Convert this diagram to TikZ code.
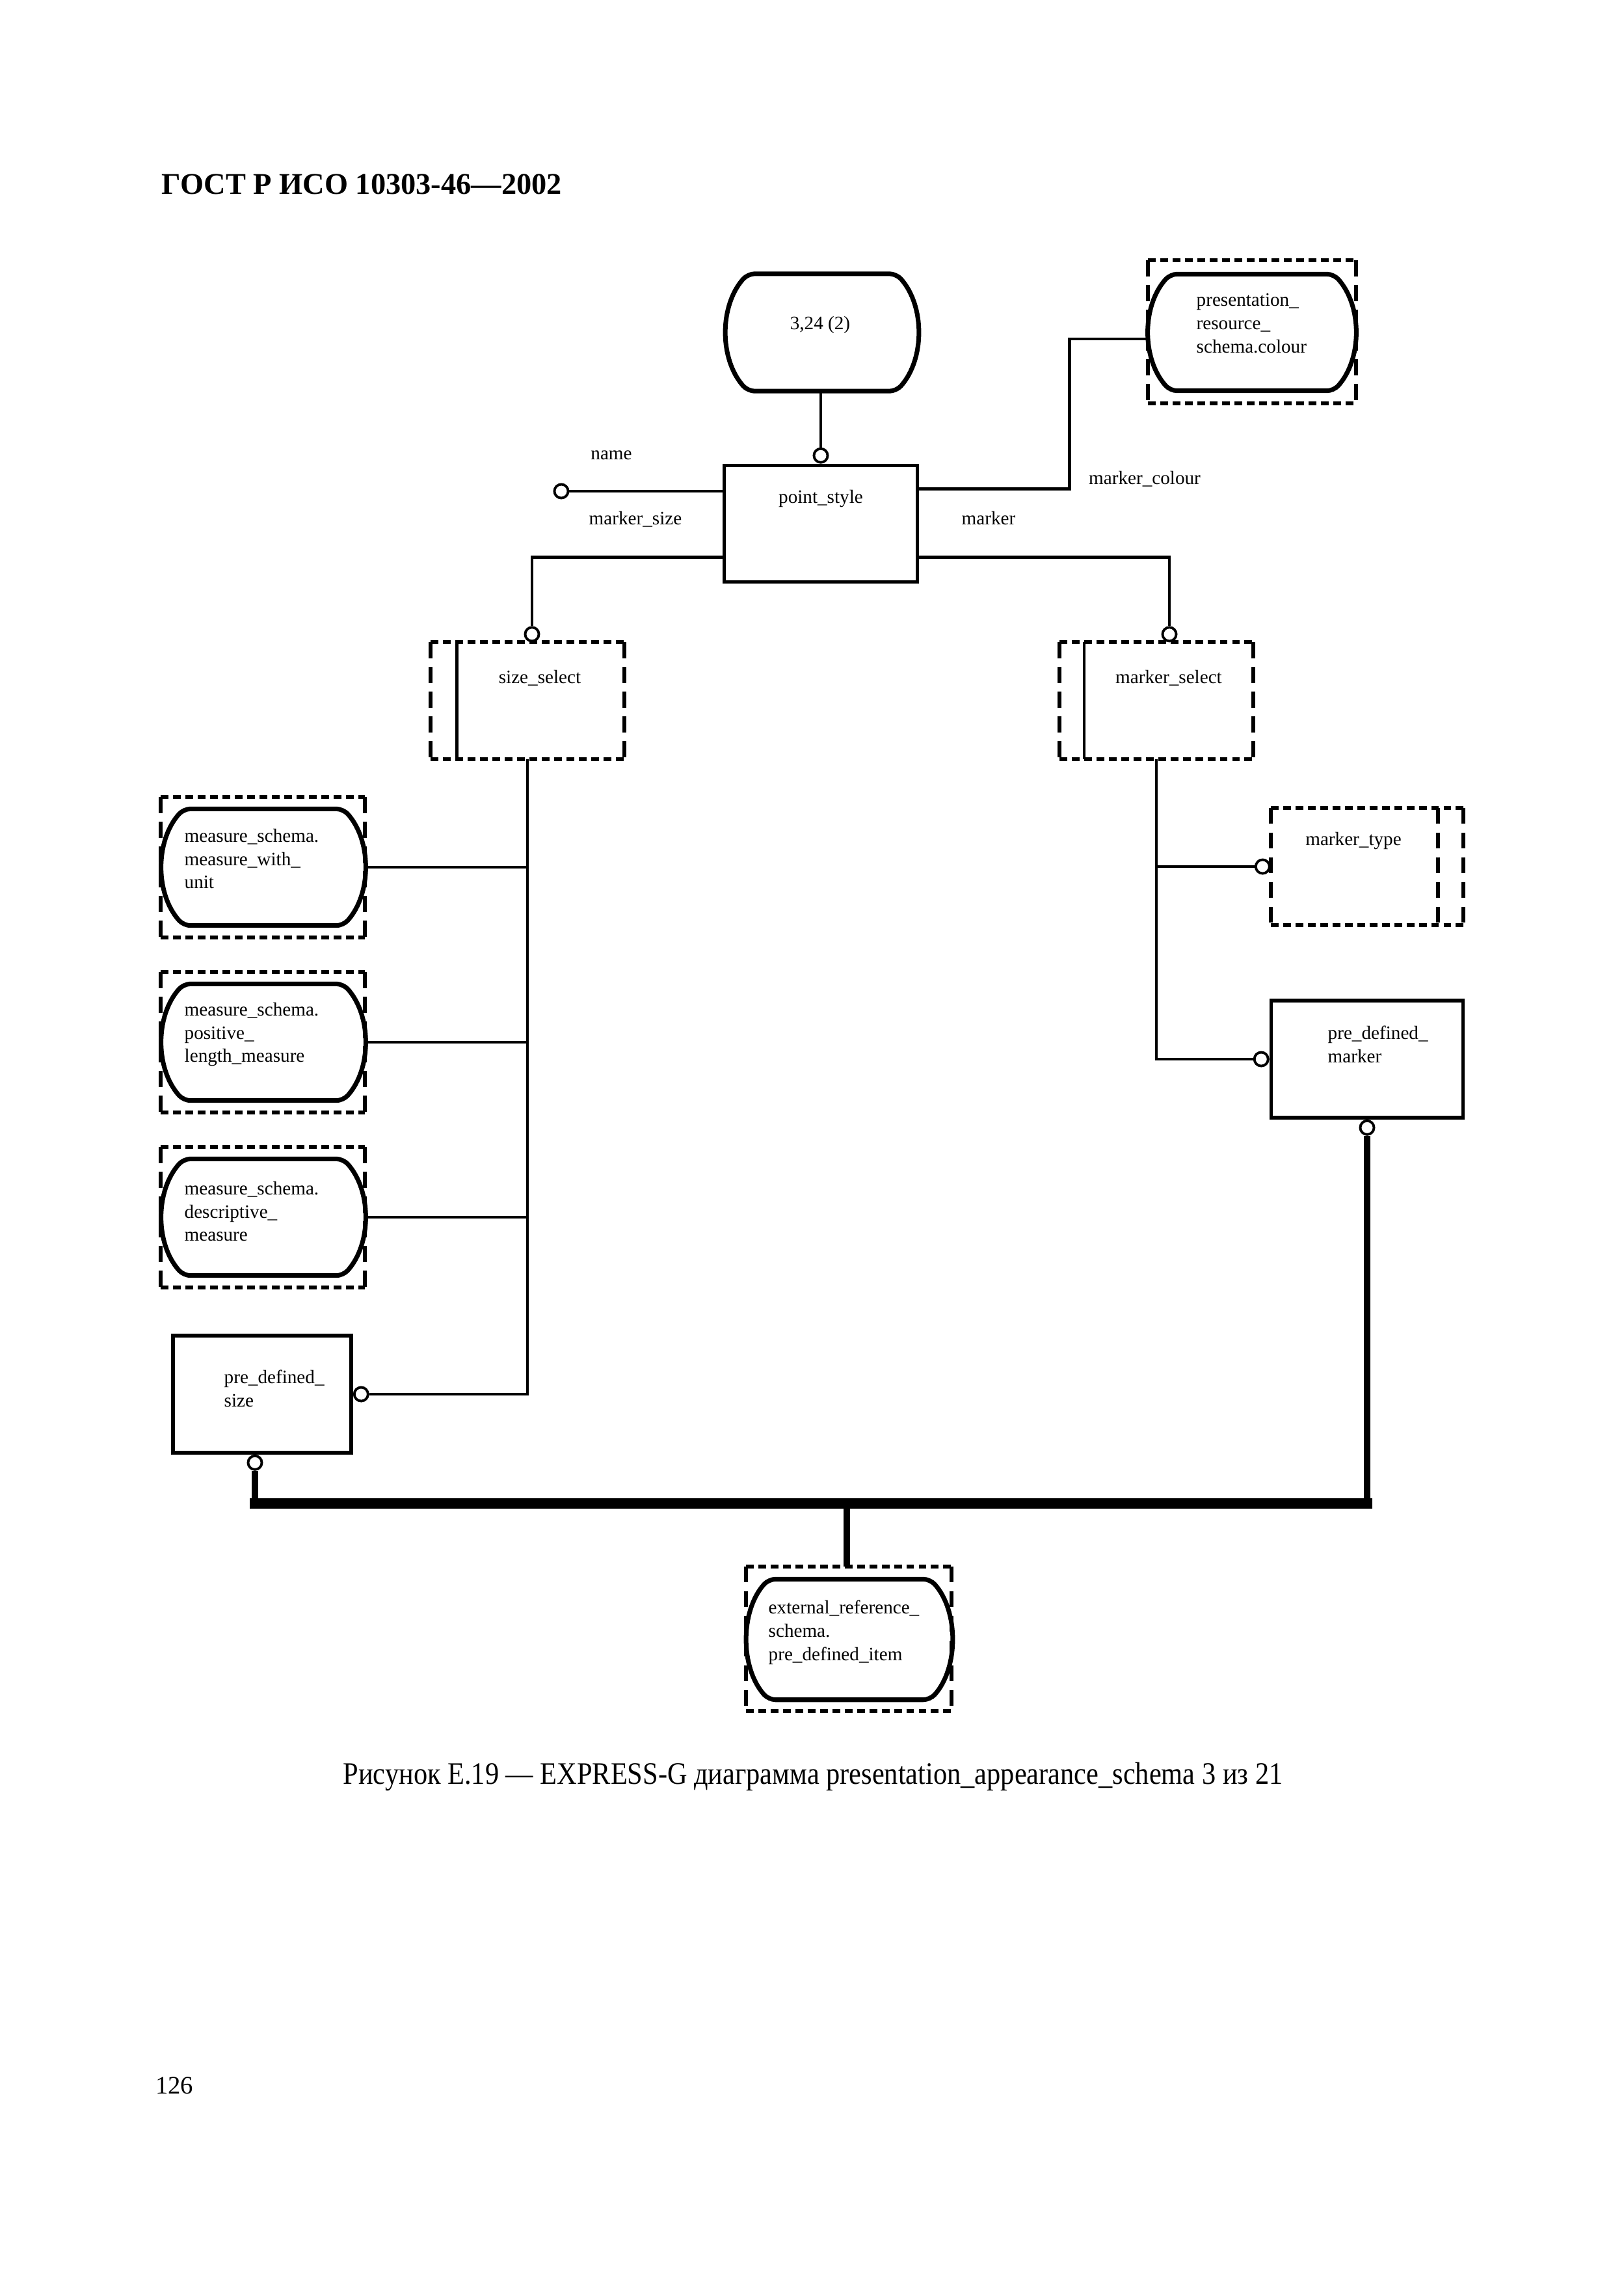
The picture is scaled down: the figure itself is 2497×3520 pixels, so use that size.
\documentclass[tikz,border=0pt]{standalone}
\usepackage{fontspec}
\setmainfont{Liberation Serif}
\newfontfamily\capfont[FakeStretch=0.88]{Liberation Serif}
\usetikzlibrary{positioning}

\tikzset{
  conn/.style={line width=1.3pt},
  entity/.style={rectangle, draw, line width=1.6pt, inner sep=0pt},
  frame/.style={rectangle, inner sep=0pt},
  ring/.style={circle, draw, line width=1.1pt, fill=white, inner sep=0pt, minimum size=6pt},
  lbl/.style={font=\fontsize{8.3}{10.2}\selectfont, inner sep=0pt},
  txt/.style={lbl, align=left, anchor=west},
  hdash/.style={line width=1.7pt, dash pattern=on 3.4pt off 2pt},
  vdash/.style={line width=1.7pt, dash pattern=on 7pt off 3.8pt},
  bus/.style={line width=4.8pt, line cap=rect},
  stem/.style={line width=3pt},
}

% outline of a schema reference around node #1
\newcommand{\barrelshape}[1]{%
  \draw[line width=2pt, rounded corners=3pt] (#1.north) -- ([xshift=-9.4pt]#1.north east)
    .. controls ([xshift=3.1pt, yshift=-14pt]#1.north east) and ([xshift=3.1pt, yshift=14pt]#1.south east) .. ([xshift=-9.4pt]#1.south east)
    -- ([xshift=9.4pt]#1.south west)
    .. controls ([xshift=-3.1pt, yshift=14pt]#1.south west) and ([xshift=-3.1pt, yshift=-14pt]#1.north west) .. ([xshift=9.4pt]#1.north west)
    -- cycle;}
% dashed frame round node #1
\newcommand{\dashedframe}[1]{%
  \draw[hdash] (#1.north west) -- (#1.north east) (#1.south west) -- (#1.south east);
  \draw[vdash] (#1.north west) -- (#1.south west) (#1.north east) -- (#1.south east);}

\begin{document}
\begin{tikzpicture}[x=0.1mm, y=-0.1mm]
	\useasboundingbox (0,0) rectangle (2497,3520);

	\node[anchor=west, font=\fontsize{13.2}{16}\selectfont\bfseries, inner sep=0pt] (title) at (248,283) {ГОСТ Р ИСО 10303-46—2002};

	% entities and references
	\node[frame, minimum width=29.3mm, minimum height=17.9mm] (ref324) at (1264,511) {};
	\node[entity, minimum width=29.7mm, minimum height=17.9mm] (ps) at (1262,805) {};
	\node[frame, minimum width=31.8mm, minimum height=21.8mm] (pres-d) at (1925,510) {};
	\node[frame, minimum width=31.6mm, minimum height=17.8mm] (pres) at (1925,511) {};
	\node[frame, minimum width=29.6mm, minimum height=17.8mm] (ssel) at (811,1077) {};
	\node[frame, minimum width=29.7mm, minimum height=17.8mm] (msel) at (1778,1077) {};
	\node[frame, minimum width=31.2mm, minimum height=21.4mm] (mwu-d) at (404,1333) {};
	\node[frame, minimum width=31.0mm, minimum height=17.8mm] (mwu) at (405,1333) {};
	\node[frame, minimum width=31.2mm, minimum height=21.4mm] (plm-d) at (404,1602) {};
	\node[frame, minimum width=31.0mm, minimum height=17.8mm] (plm) at (405,1602) {};
	\node[frame, minimum width=31.2mm, minimum height=21.4mm] (dsc-d) at (404,1871) {};
	\node[frame, minimum width=31.0mm, minimum height=17.8mm] (dsc) at (405,1871) {};
	\node[entity, minimum width=27.4mm, minimum height=18.0mm] (pds) at (403,2143) {};
	\node[frame, minimum width=29.5mm, minimum height=17.9mm] (mtype) at (2102,1332) {};
	\node[entity, minimum width=29.5mm, minimum height=18.0mm] (pdm) at (2102,1628) {};
	\node[frame, minimum width=31.5mm, minimum height=22.1mm] (ext-d) at (1305,2519) {};
	\node[frame, minimum width=31.3mm, minimum height=18.4mm] (ext) at (1306,2520) {};

	\barrelshape{ref324}
	\foreach \b in {pres,mwu,plm,dsc,ext} {\barrelshape{\b}}
	\foreach \f in {pres-d,mwu-d,plm-d,dsc-d,ext-d,ssel,msel,mtype} {\dashedframe{\f}}
	\draw[conn] ([xshift=4mm]ssel.north west) -- ([xshift=4mm]ssel.south west);
	\draw[conn] ([xshift=3.8mm]msel.north west) -- ([xshift=3.8mm]msel.south west);
	\draw[vdash] ([xshift=-3.9mm]mtype.north east) -- ([xshift=-3.9mm]mtype.south east);

	% circles
	\node[ring, anchor=south] (cps) at (ps.north) {};
	\node[ring] (cname) at (863,755) {};
	\node[ring, anchor=south] (csz) at ([xshift=0.7mm]ssel.north) {};
	\node[ring, anchor=south] (cmsel) at ([xshift=2mm]msel.north) {};
	\node[ring, anchor=east] (cmt) at (mtype.west) {};
	\node[ring, anchor=east] (cpdml) at (pdm.west) {};
	\node[ring, anchor=north] (cpdmb) at (pdm.south) {};
	\node[ring, anchor=west] (cpdsr) at (pds.east) {};
	\node[ring, anchor=north] (cpdsb) at ([xshift=-1.1mm]pds.south) {};
	\coordinate (jn) at (1302,2311);

	% relations
	\draw[conn] (cps.north |- ref324.south) -- (cps.north);
	\draw[conn] (cname.east) -- (cname.east -| ps.west);
	\draw[conn] ([yshift=4.1mm]ps.south west) -| (csz.north);
	\draw[conn] ([yshift=-3.9mm]ps.north east) -- ++(23.1mm,0) |- ([yshift=-1mm]pres.west);
	\draw[conn] ([yshift=4.1mm]ps.south east) -| (cmsel.north);
	\draw[conn] (ssel.south) |- (cpdsr.east);
	\foreach \m in {mwu,plm,dsc} \draw[conn] (\m.east) -- (\m.east -| ssel.south);
	\draw[conn] (msel.south) |- (cpdml.west);
	\draw[conn] (cmt.west) -- (cmt.west -| msel.south);
	\draw[bus] (cpdsb.south |- jn) -- (cpdmb.south |- jn);
	\draw[stem] (cpdsb.south) -- (cpdsb.south |- jn);
	\draw[stem] (cpdmb.south) -- (cpdmb.south |- jn);
	\draw[stem] (jn) -- (jn |- ext-d.north);

	% texts
	\node[lbl] (t324) at (1261,499) {3,24 (2)};
	\node[lbl] (tps) at (1262,767) {point\_style};
	\node[lbl] (tname) at (940,700) {name};
	\node[lbl] (tmsize) at (977,798) {marker\_size};
	\node[lbl] (tmcol) at (1760,736) {marker\_colour};
	\node[lbl] (tmark) at (1520,796) {marker};
	\node[txt] (tpres) at (1839,497) {presentation\_\\resource\_\\schema.colour};
	\node[lbl] (tssel) at (830,1042) {size\_select};
	\node[lbl] (tmsel) at (1797,1042) {marker\_select};
	\node[txt] (tmwu) at (283,1320) {measure\_schema.\\measure\_with\_\\unit};
	\node[txt] (tplm) at (283,1590) {measure\_schema.\\positive\_\\length\_measure};
	\node[txt] (tdsc) at (283,1862) {measure\_schema.\\descriptive\_\\measure};
	\node[txt] (tpds) at (344,2134) {pre\_defined\_\\size};
	\node[lbl] (tmt) at (2081,1293) {marker\_type};
	\node[txt] (tpdm) at (2041,1605) {pre\_defined\_\\marker};
	\node[txt] (text) at (1181,2509) {external\_reference\_\\schema.\\pre\_defined\_item};

	\node[font=\capfont\fontsize{13.7}{16}\selectfont, inner sep=0pt] (caption) at (1250,2731) {Рисунок Е.19 — EXPRESS-G диаграмма presentation\_appearance\_schema 3 из 21};
	\node[font=\fontsize{11}{13}\selectfont, inner sep=0pt] (page) at (268,3206) {126};
\end{tikzpicture}
\end{document}
